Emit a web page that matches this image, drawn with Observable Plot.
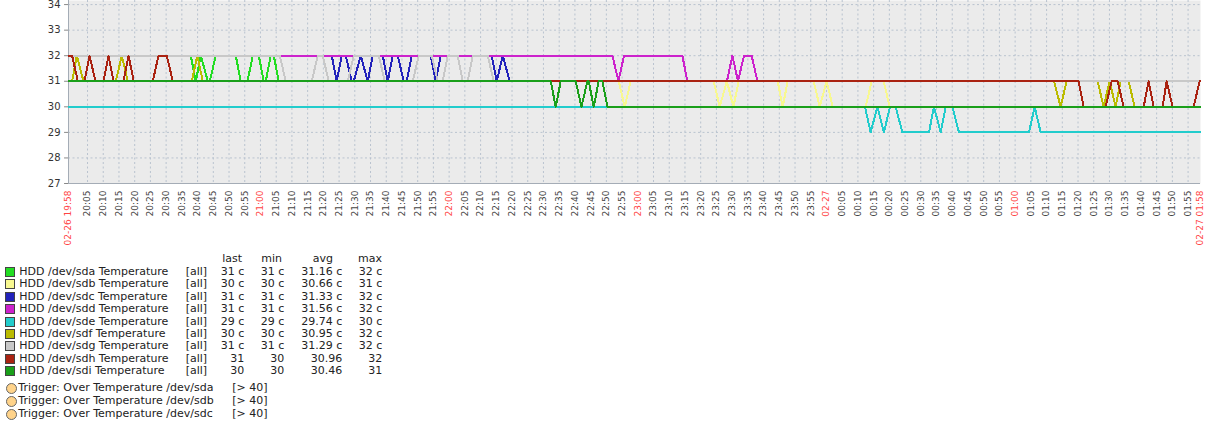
<!DOCTYPE html>
<html><head><meta charset="utf-8">
<script src="https://cdn.jsdelivr.net/npm/d3@7"></script>
<script src="https://cdn.jsdelivr.net/npm/@observablehq/plot@0.6"></script>
<style>
body{margin:0;background:#fff;font-family:"DejaVu Sans",sans-serif;}
#wrap{position:relative;width:1209px;height:421px;overflow:hidden;}
#wrap svg{display:block;}
.lg{position:absolute;font-size:11px;color:#222;line-height:12px;white-space:nowrap;}
.r{text-align:right;width:80px;}
.sw{position:absolute;width:8px;height:8px;border:1px solid #444;}
.tr{position:absolute;width:9px;height:9px;border-radius:50%;border:1px solid #666;background:#ffd38a;}
</style></head><body><div id="wrap"></div>
<script>
// ---- data (minutes since 02-26 19:58, temperature °C) ----
const seriesNames = ["HDD /dev/sda Temperature","HDD /dev/sdb Temperature","HDD /dev/sdc Temperature","HDD /dev/sdd Temperature","HDD /dev/sde Temperature","HDD /dev/sdf Temperature","HDD /dev/sdg Temperature","HDD /dev/sdh Temperature","HDD /dev/sdi Temperature"];
const seriesColors = ["#22DD22","#F8F890","#2222BB","#CC22CC","#22CCCC","#BBBB00","#C8C8C8","#AA2211","#1A9F1A"];
const legendLast = ["31 c","30 c","31 c","31 c","29 c","30 c","31 c","31","30"];
const legendMin  = ["31 c","30 c","31 c","31 c","29 c","30 c","31 c","30","30"];
const legendAvg  = ["31.16 c","30.66 c","31.33 c","31.56 c","29.74 c","30.95 c","31.29 c","30.96","30.46"];
const legendMax  = ["32 c","31 c","32 c","32 c","30 c","32 c","32 c","32","31"];
const triggerNames = ["Trigger: Over Temperature /dev/sda","Trigger: Over Temperature /dev/sdb","Trigger: Over Temperature /dev/sdc"];
const triggerRule = "[> 40]";

const sda = [[0.95,32],[39.84,32],[41.43,31],[43.02,32],[45.25,31],[45.88,31],[47.79,32],[54.15,32],[55.74,31],[57.87,31],[59.56,32],[61.46,32],[63.05,31],[63.69,31],[65.28,32],[66.23,32],[67.82,31],[360.95,31]];
const sdb = [[0.95,31],[175.93,31],[177.84,30],[179.75,31],[206.14,31],[208.04,30],[210.34,31],[212.40,30],[214.09,31],[226.49,31],[228.08,30],[229.67,31],[237.94,31],[239.85,30],[242.07,31],[243.98,30],[254.47,30],[256.38,31],[260.19,31],[262.10,30],[360.95,30]];
const sdc = [[0.95,32],[84.67,32],[86.26,31],[87.85,32],[89.12,32],[91.03,31],[91.67,31],[93.90,32],[96.12,31],[97.71,32],[100.89,32],[102.48,31],[104.07,32],[105.66,32],[107.57,31],[108.52,31],[110.11,32],[116.15,32],[117.74,31],[119.33,32],[135.55,32],[137.14,31],[139.05,32],[141.27,31],[360.95,31]];
const sdd = [[0.95,32],[173.93,32],[175.84,31],[177.62,32],[196.18,32],[197.77,31],[210.34,31],[212.08,32],[213.86,31],[215.77,32],[218.22,32],[220.03,31],[360.95,31]];
const sde = [[0.95,30],[254.25,30],[256.06,29],[258.19,30],[260.29,29],[262.20,30],[264.01,30],[266.14,29],[274.60,29],[276.19,30],[278.32,29],[279.91,30],[282.04,30],[284.14,29],[306.40,29],[308.21,30],[310.12,29],[360.95,29]];
const sdf = [[0.95,31],[2.10,31],[3.60,32],[5.72,31],[15.99,31],[17.90,32],[19.81,31],[40.16,31],[41.91,32],[43.66,31],[314.35,31],[316.48,30],[318.38,31],[328.24,31],[330.15,30],[332.06,31],[333.96,30],[335.55,31],[338.10,31],[340.00,30],[360.95,30]];
const sdg = [[0.95,32],[68.14,32],[70.05,31],[78.32,31],[80.22,32],[81.81,32],[83.72,31],[89.76,31],[91.67,32],[99.62,32],[101.53,31],[110.43,31],[112.34,32],[116.47,32],[118.38,31],[119.97,31],[121.56,32],[124.74,32],[126.33,31],[127.92,31],[129.51,32],[134.28,32],[136.19,31],[360.95,31]];
const sdh = [[0.95,32],[2.10,32],[3.92,31],[6.04,31],[7.63,32],[9.54,31],[12.08,31],[13.67,32],[15.26,31],[18.44,31],[20.03,32],[21.72,31],[27.76,31],[29.57,32],[32.21,32],[34.12,31],[322.20,31],[323.79,30],[330.79,30],[332.69,31],[334.60,31],[336.51,30],[342.87,30],[344.46,31],[346.05,30],[348.91,30],[350.18,31],[352.09,30],[358.77,30],[360.67,31],[360.95,31]];
const sdi = [[0.95,31],[154.31,31],[155.90,30],[157.49,31],[162.26,31],[164.07,30],[165.98,31],[166.39,31],[167.98,30],[169.57,31],[170.75,31],[172.34,30],[360.95,30]];
const allSeries = [sda,sdb,sdc,sdd,sde,sdf,sdg,sdh,sdi];

const yTicks = [27,28,29,30,31,32,33,34];
const xStart = 0.95, xEnd = 360.95;
const xEdgeLabels = ["02-26 19:58","02-27 01:58"];
const xTickTimes = ["20:05","20:10","20:15","20:20","20:25","20:30","20:35","20:40","20:45","20:50","20:55","21:00","21:05","21:10","21:15","21:20","21:25","21:30","21:35","21:40","21:45","21:50","21:55","22:00","22:05","22:10","22:15","22:20","22:25","22:30","22:35","22:40","22:45","22:50","22:55","23:00","23:05","23:10","23:15","23:20","23:25","23:30","23:35","23:40","23:45","23:50","23:55","00:00","00:05","00:10","00:15","00:20","00:25","00:30","00:35","00:40","00:45","00:50","00:55","01:00","01:05","01:10","01:15","01:20","01:25","01:30","01:35","01:40","01:45","01:50","01:55"];
const midnightLabel = "02-27";

// ---- build ----
const ticks = xTickTimes.map(s => {
  const [h, m] = s.split(":").map(Number);
  const t = ((h*60 + m) - (19*60 + 58) + 1440) % 1440;
  return {t, label: s === "00:00" ? midnightLabel : s, red: m === 0};
});
const edgeTicks = [{t: xStart, label: xEdgeLabels[0]}, {t: xEnd, label: xEdgeLabels[1]}];

const lineMarks = allSeries.map((pts, i) =>
  Plot.line(pts, {x: d => d[0], y: d => d[1], stroke: seriesColors[i], strokeWidth: 2, curve: "linear", shapeRendering: "crispEdges"}));

const xLabelOpts = {x: d => d.t, y: () => 27, text: d => d.label, rotate: -90, textAnchor: "end", lineAnchor: "middle", dy: 7, fontSize: 9};

const chart = Plot.plot({
  width: 1209, height: 252,
  marginLeft: 68, marginRight: 9, marginTop: 0, marginBottom: 69,
  x: {domain: [xStart, xEnd], axis: null},
  y: {domain: [27, 34.16], axis: null},
  style: {fontFamily: "DejaVu Sans", background: "white", overflow: "visible"},
  marks: [
    Plot.frame({fill: "#ebebeb", stroke: "none"}),
    Plot.ruleX(ticks, {x: d => d.t, stroke: "#b9c3cf", strokeDasharray: "2,2.5"}),
    Plot.ruleY(yTicks.slice(1), {y: d => d, stroke: "#b9c3cf", strokeDasharray: "2,2.5"}),
    Plot.ruleX([xStart], {stroke: "#a4acb6"}),
    Plot.ruleY([27], {stroke: "#a4acb6"}),
    ...lineMarks,
    Plot.ruleY(yTicks, {y: d => d, x1: () => -0.3, x2: () => xStart, stroke: "#888"}),
    Plot.text(yTicks, {x: () => xStart, y: d => d, text: d => String(d), dx: -8, textAnchor: "end", fontSize: 10, fill: "#333"}),
    Plot.text(ticks.filter(d => !d.red), {...xLabelOpts, fill: "#444"}),
    Plot.text(ticks.filter(d => d.red), {...xLabelOpts, fill: "#f44"}),
    Plot.text(edgeTicks, {...xLabelOpts, fill: "#f44"})
  ]
});
const wrap = document.getElementById("wrap");
wrap.appendChild(chart);

// ---- legend (HTML below the svg) ----
function add(cls, text, left, top, extra) {
  const el = document.createElement("div");
  el.className = cls;
  if (text != null) el.textContent = text;
  el.style.left = left + "px";
  el.style.top = top + "px";
  if (extra) Object.assign(el.style, extra);
  wrap.appendChild(el);
  return el;
}
const hdrY = 259.3 - 6;
add("lg r", "last", 242 - 80, hdrY);
add("lg r", "min", 282 - 80, hdrY);
add("lg r", "avg", 333 - 80, hdrY);
add("lg r", "max", 382 - 80, hdrY);
seriesNames.forEach((name, i) => {
  const cy = 272 + i * 12.41;
  add("sw", null, 5, cy - 5, {background: seriesColors[i]});
  add("lg", name, 19.3, cy - 6);
  add("lg", "[all]", 185.7, cy - 6);
  add("lg r", legendLast[i], 244.3 - 80, cy - 6);
  add("lg r", legendMin[i], 284.3 - 80, cy - 6);
  add("lg r", legendAvg[i], 342.3 - 80, cy - 6);
  add("lg r", legendMax[i], 382.3 - 80, cy - 6);
});
triggerNames.forEach((name, i) => {
  const cy = 388.3 + i * 12.7;
  add("tr", null, 6, cy - 5);
  add("lg", name, 18.3, cy - 6);
  add("lg", triggerRule, 232.3, cy - 6);
});
</script></body></html>
